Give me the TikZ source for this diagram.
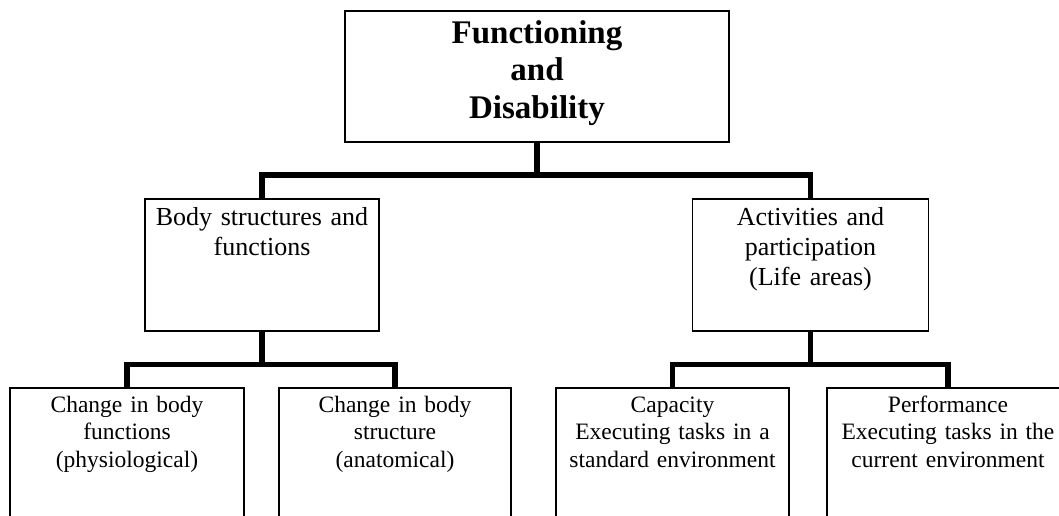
\documentclass[tikz,border=0pt]{standalone}
\usepackage{fontspec}
\setmainfont{Liberation Serif}
\begin{document}
\begin{tikzpicture}[x=1pt,y=-1pt,
  box/.style={draw, line width=1.8pt, inner sep=0pt},
  lab/.style={anchor=base, align=center, inner sep=0pt},
  headfont/.style={font=\fontsize{33}{37.5}\selectfont\bfseries},
  midfont/.style={font=\fontsize{26}{30}\selectfont},
  lowfont/.style={font=\fontsize{23.5}{27.6}\selectfont},
  conn/.style={line width=5.5pt, line join=miter}]
  \useasboundingbox (0,0) rectangle (1059,515);
  \clip (0,0) rectangle (1059,515);

  % boxes
  \node[box, minimum width=384pt, minimum height=131pt] (top) at (537,76.5) {};
  \node[box, minimum width=234pt, minimum height=132pt] (body) at (262,265) {};
  \node[box, minimum width=236pt, minimum height=132pt] (act) at (810.5,265) {};
  \node[box, minimum width=234pt, minimum height=172pt] (c1) at (127,474) {};
  \node[box, minimum width=232pt, minimum height=172pt] (c2) at (395,474) {};
  \node[box, minimum width=233pt, minimum height=172pt] (c3) at (672.5,474) {};
  \node[box, minimum width=242pt, minimum height=172pt] (c4) at (948,474) {};

  % texts
  \node[lab, headfont, text width=380pt] (toptext) at (537,43) {Functioning\\and\\Disability};
  \node[lab, midfont, text width=232pt] (bodytext) at (262,225) {Body structures and\\functions};
  \node[lab, midfont, text width=232pt] (acttext) at (810.5,225) {Activities and\\participation\\(Life areas)};
  \node[lab, lowfont, text width=230pt] (c1text) at (127,412) {Change in body\\functions\\(physiological)};
  \node[lab, lowfont, text width=230pt] (c2text) at (395,412) {Change in body\\structure\\(anatomical)};
  \node[lab, lowfont, text width=230pt] (c3text) at (672.5,412) {Capacity\\Executing tasks in a\\standard environment};
  \node[lab, lowfont, text width=240pt] (c4text) at (948,412) {Performance\\Executing tasks in the\\current environment};

  % connectors
  \coordinate (jt) at (537,175);
  \coordinate (lvl) at (0,364.5);
  \draw[conn] (top.south) -- (jt);
  \draw[conn] (body.north) |- (jt) -| (act.north);
  \draw[conn] (body.south) -- (body.south |- lvl);
  \draw[conn] (c1.north) |- (body.south |- lvl) -| (c2.north);
  \draw[conn] (act.south) -- (act.south |- lvl);
  \draw[conn] (c3.north) |- (act.south |- lvl) -| (c4.north);
\end{tikzpicture}
\end{document}
